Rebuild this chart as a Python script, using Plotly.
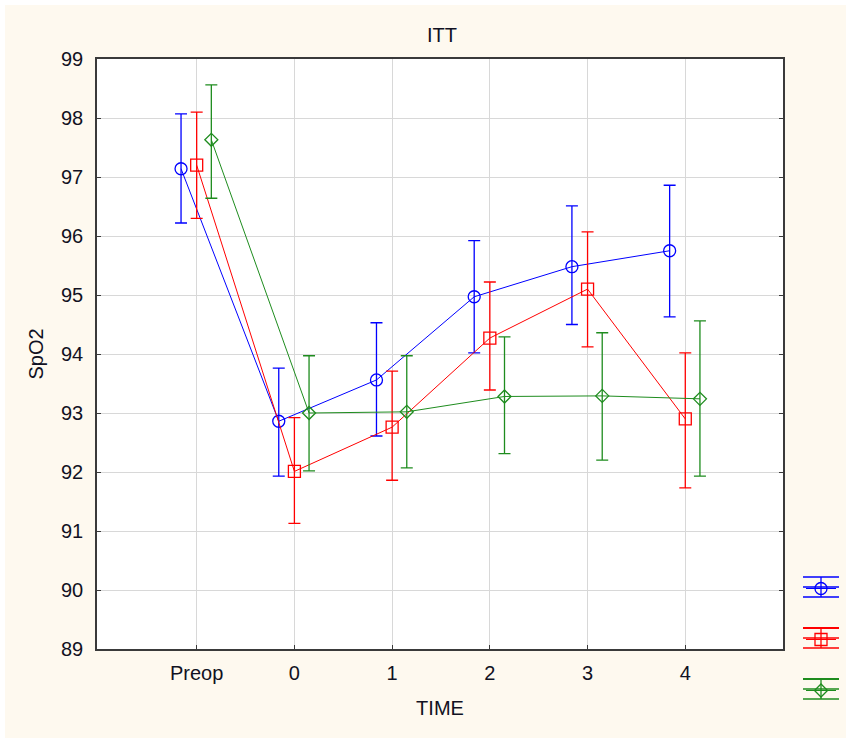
import plotly.graph_objects as go

categories = ["Preop", "0", "1", "2", "3", "4"]

blue_mean = [97.14, 92.86, 93.56, 94.97, 95.48, 95.75]
blue_hi = [98.07, 93.76, 94.53, 95.92, 96.51, 96.86]
blue_lo = [96.22, 91.93, 92.61, 94.02, 94.50, 94.63]

red_mean = [97.20, 92.01, 92.76, 94.27, 95.10, 92.90]
red_hi = [98.10, 92.92, 93.71, 95.22, 96.07, 94.02]
red_lo = [96.30, 91.13, 91.86, 93.39, 94.12, 91.73]

green_mean = [97.63, 93.00, 93.02, 93.28, 93.29, 93.24]
green_hi = [98.56, 93.97, 93.97, 94.29, 94.36, 94.56]
green_lo = [96.64, 92.02, 92.07, 92.31, 92.20, 91.93]

y_ticks = [89, 90, 91, 92, 93, 94, 95, 96, 97, 98, 99]

BLUE, RED, GREEN = "#0000FF", "#FF0000", "#1E8C1E"

series = [
    (blue_mean, blue_hi, blue_lo, BLUE, "circle-open", 12, -0.16),
    (red_mean, red_hi, red_lo, RED, "square-open", 12, 0.0),
    (green_mean, green_hi, green_lo, GREEN, "diamond-open", 10, 0.15),
]

fig = go.Figure()
for i, (m, hi, lo, col, sym, ms, off) in enumerate(series):
    xs = [k + off for k in range(len(categories))]
    fig.add_trace(go.Scatter(
        x=xs, y=m, mode="lines+markers", name=" ",
        legendgroup=str(i),
        line=dict(color=col, width=1),
        marker=dict(symbol=sym, size=ms, color=col, line=dict(color=col, width=1.3)),
        error_y=dict(type="data", symmetric=False,
                     array=[h - v for h, v in zip(hi, m)],
                     arrayminus=[v - l for v, l in zip(m, lo)],
                     color=col, thickness=1.3, width=6),
    ))

L, R, T, B = 97, 65, 59, 89
W, H = 848, 738
pw, ph = W - L - R, H - T - B


def px_x(p):
    return (p - L) / pw


def px_y(p):
    return (H - B - p) / ph


shapes = [
    dict(type="rect", xref="paper", yref="paper", x0=px_x(0), x1=px_x(5), y0=px_y(738), y1=px_y(0),
         fillcolor="white", line=dict(width=0), layer="below"),
    dict(type="rect", xref="paper", yref="paper", x0=px_x(0), x1=px_x(848), y0=px_y(5), y1=px_y(0),
         fillcolor="white", line=dict(width=0), layer="below"),
    dict(type="rect", xref="paper", yref="paper", x0=px_x(846), x1=px_x(848), y0=px_y(738), y1=px_y(0),
         fillcolor="white", line=dict(width=0), layer="below"),
]

# legend icons decoration (error-bar style: caps + centre line + vertical bar)
leg_centres = [(587, BLUE, 1.3), (638, RED, 2.2), (689, GREEN, 2.2)]
for cy, col, topw in leg_centres:
    for dy, w in ((-10, topw), (0, 1.3), (10, 1.3)):
        shapes.append(dict(type="line", xref="paper", yref="paper",
                           x0=px_x(803), x1=px_x(839), y0=px_y(cy + dy), y1=px_y(cy + dy),
                           line=dict(color=col, width=w)))
    shapes.append(dict(type="line", xref="paper", yref="paper",
                       x0=px_x(821), x1=px_x(821), y0=px_y(cy - 10), y1=px_y(cy + 10),
                       line=dict(color=col, width=1.3)))

fig.update_layout(
    width=W, height=H,
    margin=dict(l=L, r=R, t=T, b=B, autoexpand=False),
    paper_bgcolor="#FEF9EF",
    plot_bgcolor="white",
    font=dict(family="Liberation Sans, Arial, sans-serif", color="#111122"),
    title=dict(text="ITT", x=px_x(442), xref="paper", xanchor="center",
               y=1 - 35 / H, yanchor="middle", font=dict(size=20)),
    showlegend=True,
    legend=dict(x=px_x(801), y=px_y(574), xanchor="left", yanchor="top",
                traceorder="grouped", tracegroupgap=32, bgcolor="rgba(0,0,0,0)",
                font=dict(size=12), itemwidth=30),
    shapes=shapes,
    xaxis=dict(
        range=[-1.02, 6.0],
        tickmode="array", tickvals=list(range(len(categories))), ticktext=categories,
        showgrid=True, gridcolor="#D8D8D8", gridwidth=1,
        showline=True, linecolor="#3A3A3A", linewidth=1.5, mirror=True,
        ticks="inside", ticklen=4, tickcolor="#3A3A3A",
        tickfont=dict(size=20), zeroline=False, ticklabelstandoff=5,
        title=dict(text="TIME", font=dict(size=20), standoff=18),
    ),
    yaxis=dict(
        range=[89, 99],
        tickmode="array", tickvals=y_ticks,
        showgrid=True, gridcolor="#D8D8D8", gridwidth=1,
        showline=True, linecolor="#3A3A3A", linewidth=1.5, mirror="ticks",
        ticks="inside", ticklen=4, tickcolor="#3A3A3A",
        tickfont=dict(size=20), zeroline=False, ticklabelstandoff=8,
        title=dict(text="SpO2", font=dict(size=20), standoff=12),
    ),
)

fig.write_html("out.html")
